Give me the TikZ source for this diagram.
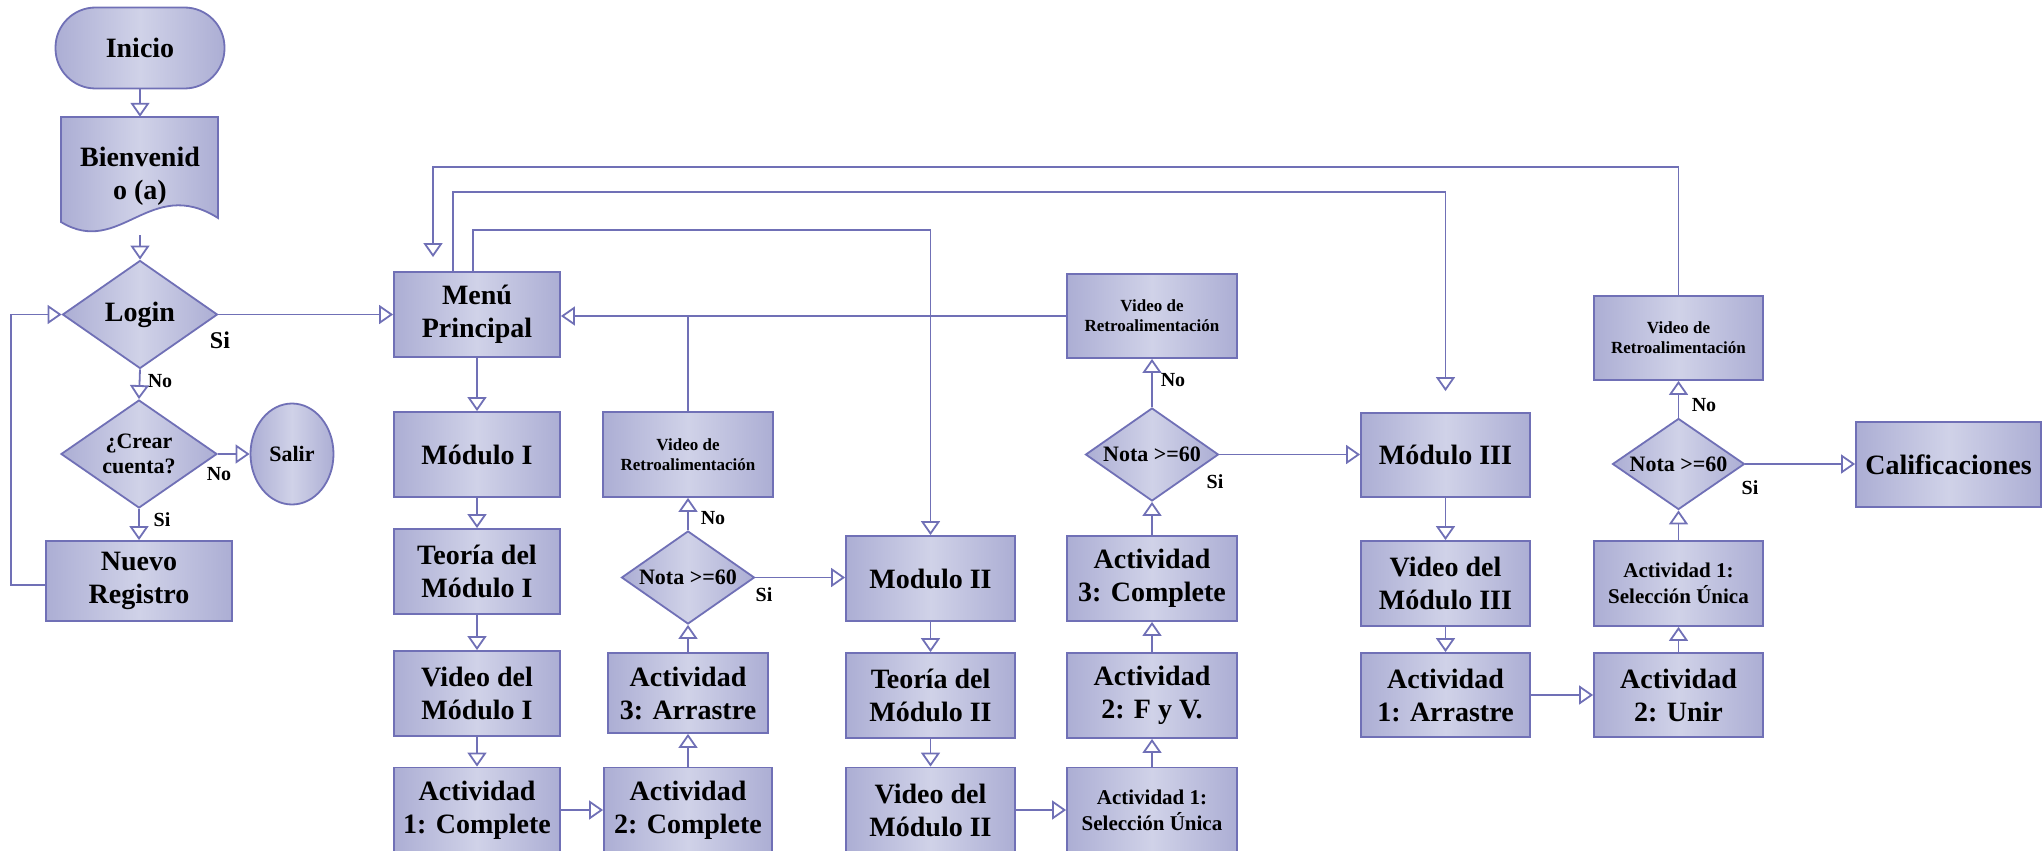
\documentclass[tikz,border=0pt]{standalone}
\usepackage{fontspec}
\setmainfont{Liberation Serif}
\usetikzlibrary{shapes.geometric, arrows.meta, calc}
\definecolor{lineC}{RGB}{112,112,182}
\definecolor{fillE}{RGB}{172,174,212}
\definecolor{fillM}{RGB}{208,210,232}
\begin{document}
\begin{tikzpicture}[x=1pt, y=-1pt,
  shd/.style={left color=fillE, right color=fillE, middle color=fillM},
  base/.style={draw=lineC, line width=1.8pt, shd, inner sep=0pt, align=center, font=\fontsize{28}{33}\selectfont\bfseries},
  box/.style={base, rectangle, minimum width=168pt, minimum height=85pt},
  dec/.style={base, diamond, aspect=1.43},
  lbl/.style={font=\fontsize{20}{22}\selectfont\bfseries, inner sep=0pt},
  arr/.style={draw=lineC, line width=1.8pt, -{Triangle[open, width=19pt, length=14pt]}},
  ln/.style={draw=lineC, line width=1.8pt},
  small/.style={font=\fontsize{17}{20}\selectfont\bfseries},
  mid/.style={font=\fontsize{21}{26}\selectfont\bfseries},
  dtext/.style={font=\fontsize{22}{25}\selectfont\bfseries}
]
\useasboundingbox (0,0) rectangle (2042,851);
\clip (0,0) rectangle (2042,851);

% left column
\node[base, rectangle, rounded corners=40pt, minimum width=169pt, minimum height=81pt] (inicio) at (140,48) {Inicio};
\path[draw=lineC, line width=1.8pt, shd] (61,117) -- (218,117) -- (218,218) .. controls (150,175) and (120,258) .. (61,222) -- cycle;
\node[font=\fontsize{28}{33}\selectfont\bfseries, align=center, inner sep=0pt, minimum width=157pt, minimum height=118pt] (bienv) at (140,176) {Bienvenid\\o (a)};
\node[dec, minimum width=155pt, minimum height=108pt] (login) at (140,314.5) {Login};
\node[dec, dtext, minimum width=156pt, minimum height=108pt] (crear) at (139,454) {¿Crear\\cuenta?};
\node[base, ellipse, dtext, minimum width=83pt, minimum height=101pt] (salir) at (292,454) {Salir};
\node[box, minimum width=186pt, minimum height=80pt] (nuevo) at (139,581) {Nuevo\\Registro};

% module I
\node[box, minimum width=166pt] (menu) at (477,314.5) {Menú\\Principal};
\node[box, minimum width=166pt] (mod1) at (477,454.5) {Módulo I};
\node[box, minimum width=166pt] (teo1) at (477,571.5) {Teoría del\\Módulo I};
\node[box, minimum width=166pt] (vid1) at (477,693.5) {Video del\\Módulo I};
\node[box, minimum width=166pt] (act11) at (477,810) {Actividad\\1: Complete};
\node[box, small, minimum width=170pt] (vr1) at (688,454.5) {Video de\\Retroalimentación};
\node[dec, dtext, minimum width=133pt, minimum height=93pt] (nota1) at (688,577.5) {Nota >=60};
\node[box, minimum width=160pt, minimum height=80pt] (act13) at (688,693) {Actividad\\3: Arrastre};
\node[box, minimum width=168pt] (act12) at (688,810) {Actividad\\2: Complete};

% module II
\node[box, minimum width=169pt] (mod2) at (930.5,578.5) {Modulo II};
\node[box, minimum width=169pt] (teo2) at (930.5,695.5) {Teoría del\\Módulo II};
\node[box, minimum width=169pt] (vid2) at (930.5,810) {Video del\\Módulo II};
\node[box, mid, minimum width=170pt] (act21) at (1152,810) {Actividad 1:\\Selección Única};
\node[box, minimum width=170pt] (act22) at (1152,695.5) {Actividad\\2: F y V.};
\node[box, minimum width=170pt] (act23) at (1152,578.5) {Actividad\\3: Complete};
\node[dec, dtext, minimum width=133pt, minimum height=93pt] (nota2) at (1152,454.5) {Nota >=60};
\node[box, small, minimum width=170pt, minimum height=84pt] (vr2) at (1152,316) {Video de\\Retroalimentación};

% module III
\node[box, minimum width=169pt, minimum height=84pt] (mod3) at (1445.5,455) {Módulo III};
\node[box, minimum width=169pt] (vid3) at (1445.5,583.5) {Video del\\Módulo III};
\node[box, minimum width=169pt, minimum height=84pt] (act31) at (1445.5,695) {Actividad\\1: Arrastre};
\node[box, minimum width=169pt, minimum height=84pt] (act32) at (1678.5,695) {Actividad\\2: Unir};
\node[box, mid, minimum width=169pt] (act33) at (1678.5,583.5) {Actividad 1:\\Selección Única};
\node[dec, dtext, minimum width=132pt, minimum height=91pt] (nota3) at (1678.5,464) {Nota >=60};
\node[box, small, minimum width=169pt, minimum height=84pt] (vr3) at (1678.5,338) {Video de\\Retroalimentación};
\node[box, minimum width=185pt] (calif) at (1948.5,464.5) {Calificaciones};

% labels
\node[lbl, font=\fontsize{24}{26}\selectfont\bfseries] (l1) at (220,340) {Si};
\node[lbl] (l2) at (160,381) {No};
\node[lbl] (l3) at (219,474) {No};
\node[lbl] (l4) at (162,520) {Si};
\node[lbl] (l5) at (713,518) {No};
\node[lbl] (l6) at (764,595) {Si};
\node[lbl] (l7) at (1173,380) {No};
\node[lbl] (l8) at (1215,482) {Si};
\node[lbl] (l9) at (1704,405) {No};
\node[lbl] (l10) at (1750,488) {Si};

\coordinate (y1) at (0,167);
\coordinate (y2) at (0,192);
\coordinate (y3) at (0,230);

% connectors
\draw[arr] (inicio.south) -- (bienv.north);
\draw[arr] (bienv.south) -- (login.north);
\draw[arr] (login.east) -- (login.east -| menu.west);
\draw[arr] (login.south) -- (crear.north);
\draw[arr] (crear.east) -- (crear.east -| salir.west);
\draw[arr] (crear.south) -- (nuevo.north);
\draw[arr] ([yshift=-4pt]nuevo.west) -- ++(-34,0) |- (login.west);

\draw[arr] (menu.south) -- (mod1.north);
\draw[arr] (mod1.south) -- (teo1.north);
\draw[arr] (teo1.south) -- (vid1.north);
\draw[arr] (vid1.south) -- (act11.north);
\draw[arr] (act11.east) -- (act11.east -| act12.west);
\draw[arr] (act12.north) -- (act13.south);
\draw[arr] (act13.north) -- (nota1.south);
\draw[arr] (nota1.north) -- (vr1.south);
\draw[arr] (nota1.east) -- (nota1.east -| mod2.west);
\draw[ln] (vr1.north) -- (vr1.north |- vr2.west);
\draw[arr] (vr2.west) -- (vr2.west -| menu.east);

\draw[arr] (mod2.south) -- (teo2.north);
\draw[arr] (teo2.south) -- (vid2.north);
\draw[arr] (vid2.east) -- (vid2.east -| act21.west);
\draw[arr] (act21.north) -- (act22.south);
\draw[arr] (act22.north) -- (act23.south);
\draw[arr] (act23.north) -- (nota2.south);
\draw[arr] (nota2.north) -- (vr2.south);
\draw[arr] (nota2.east) -- (nota2.east -| mod3.west);

\draw[arr] (mod3.south) -- (vid3.north);
\draw[arr] (vid3.south) -- (act31.north);
\draw[arr] (act31.east) -- (act31.east -| act32.west);
\draw[arr] (act32.north) -- (act33.south);
\draw[arr] (act33.north) -- (nota3.south);
\draw[arr] (nota3.north) -- (vr3.south);
\draw[arr] (nota3.east) -- (nota3.east -| calif.west);

% return / menu lines
\draw[arr, shorten >=14pt] (vr3.north) -- (vr3.north |- y1) -| ([xshift=-44pt]menu.north);
\draw[arr, shorten >=21pt] ([xshift=-24pt]menu.north) -- ([xshift=-24pt]menu.north |- y2) -| (mod3.north);
\draw[arr] ([xshift=-4pt]menu.north) -- ([xshift=-4pt]menu.north |- y3) -| (mod2.north);
\end{tikzpicture}
\end{document}
